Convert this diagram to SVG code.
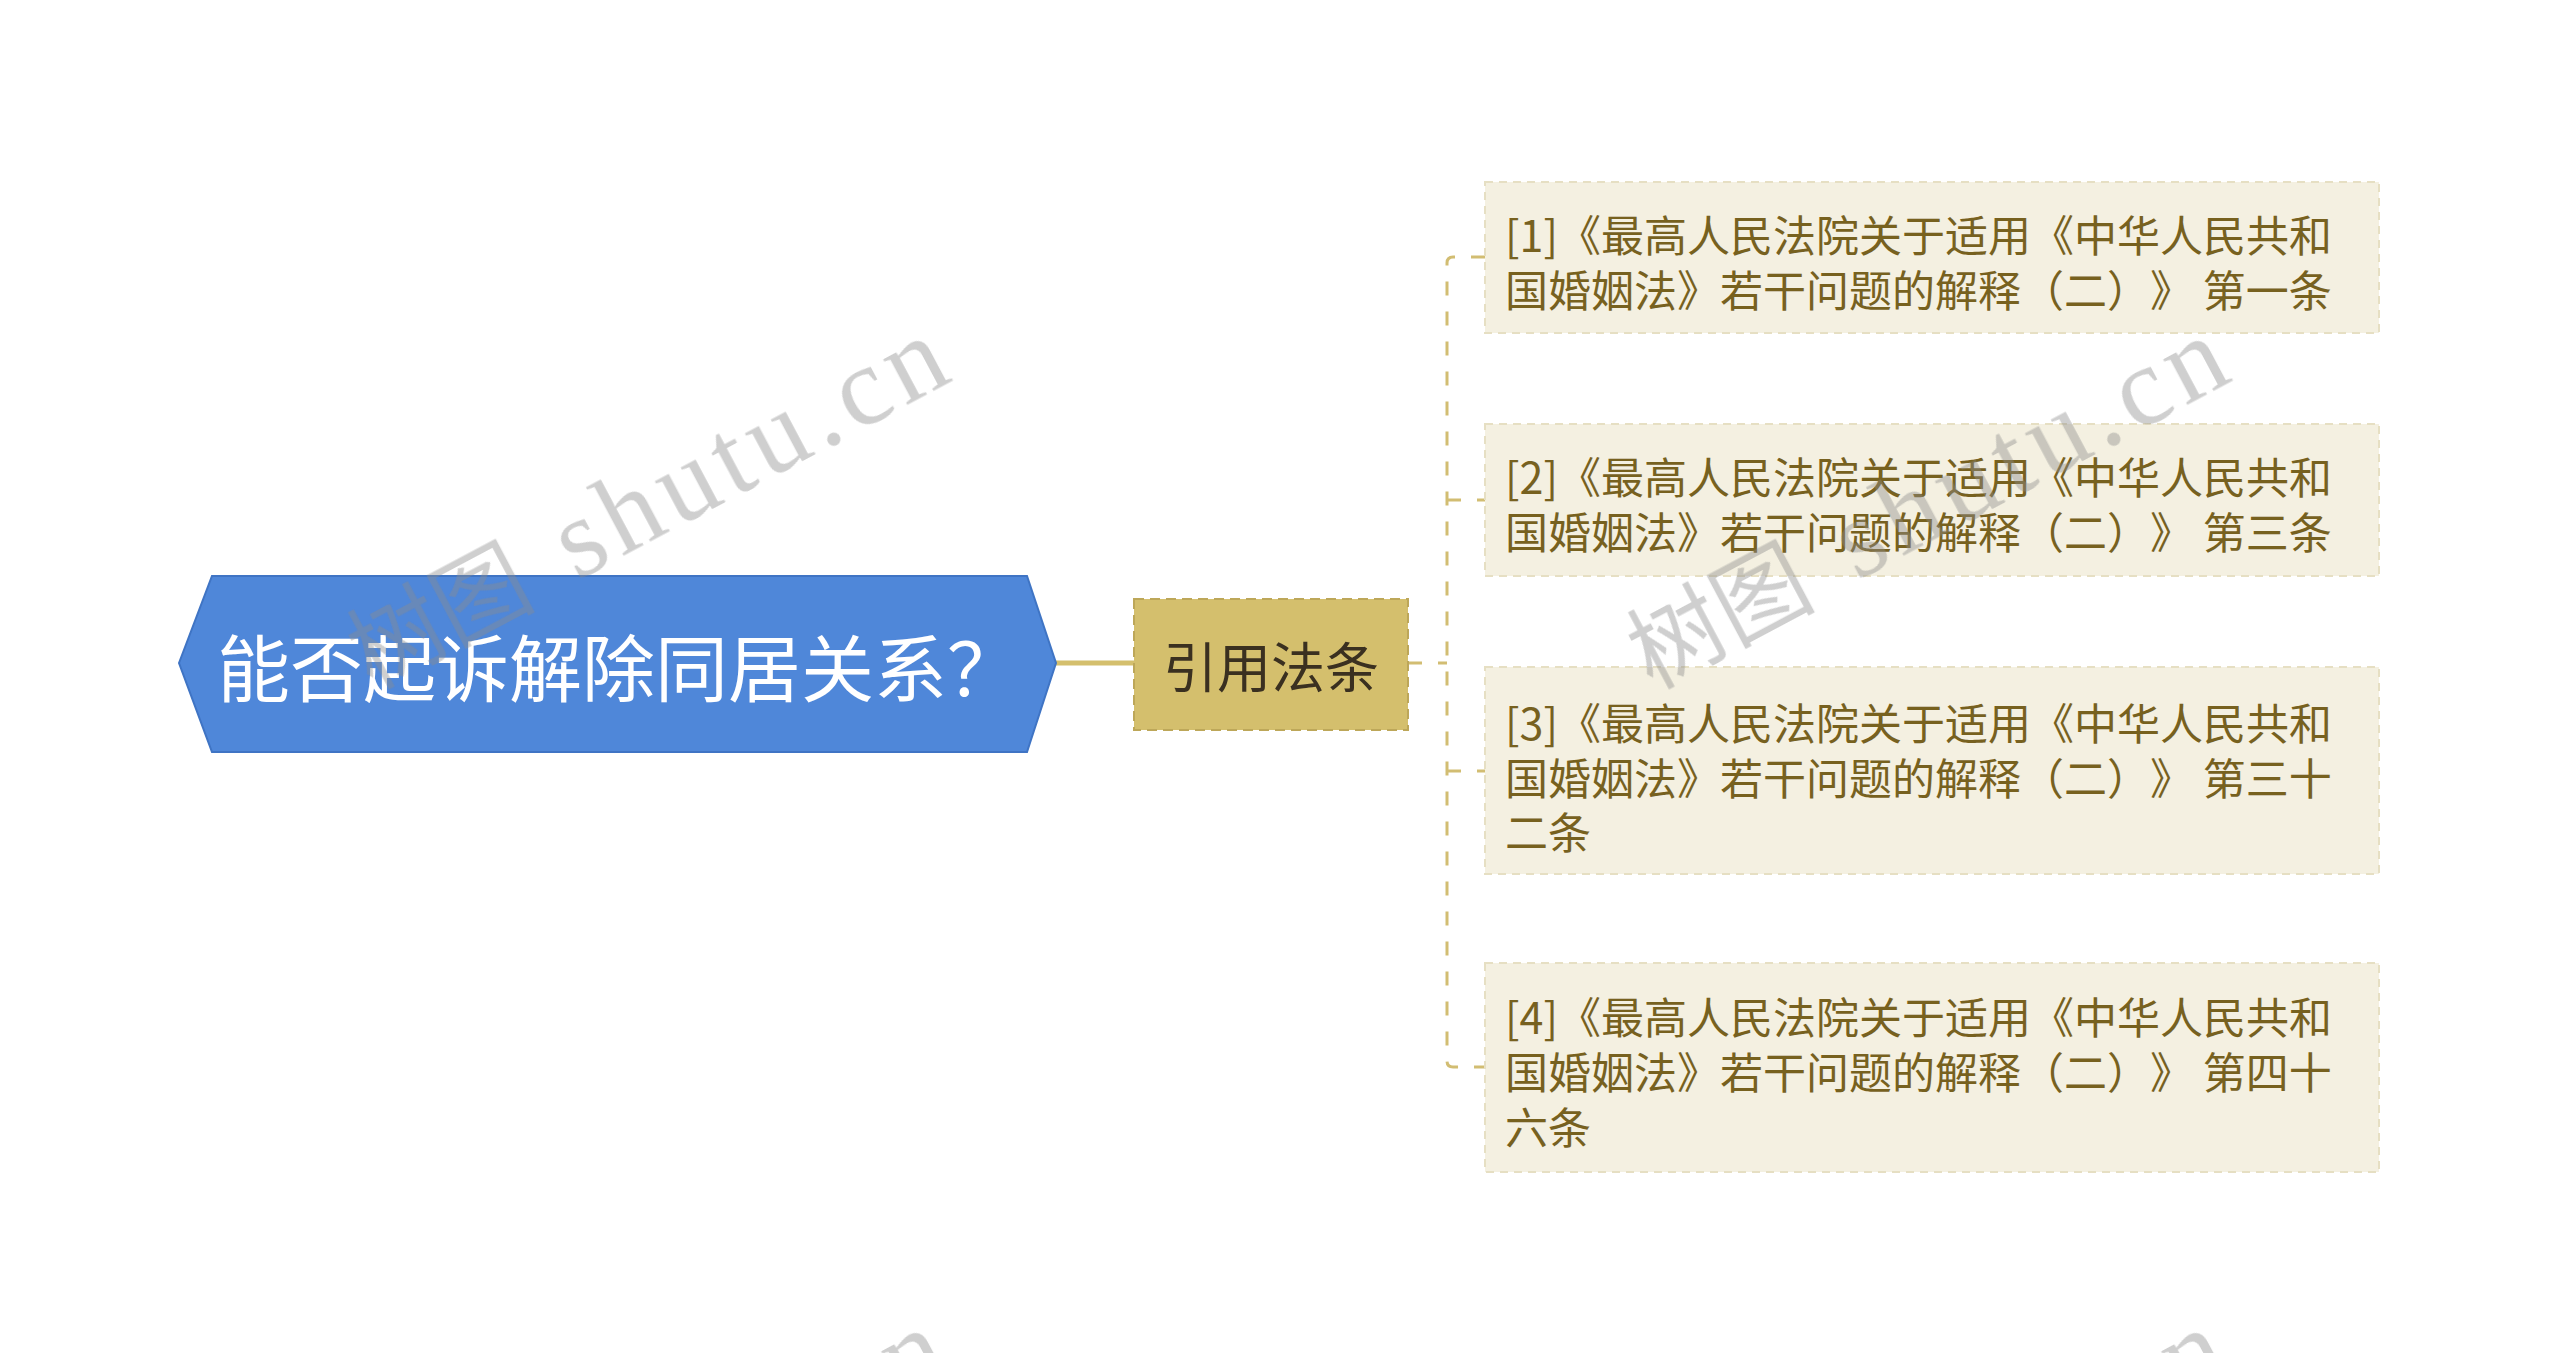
<svg xmlns="http://www.w3.org/2000/svg" width="2560" height="1353" viewBox="0 0 2560 1353">
<style>
.cjk{font-family:"Noto Sans CJK SC","Noto Sans",sans-serif;text-spacing-trim:space-all;font-feature-settings:"chws" 0,"halt" 0,"palt" 0;}
.root-text{font-size:73px;fill:#ffffff;}
.mid-text{font-size:54px;fill:#3a3020;}
.leaf-box{fill:#f4f0e1;stroke:#e6dfc3;stroke-width:2;stroke-dasharray:8 6;}
.leaf-text{font-size:43px;fill:#77611f;}
.conn{fill:none;stroke:#d2bd72;stroke-width:3;stroke-dasharray:14 16;}
.wm{fill:#8c8c8c;opacity:0.42;}
.wm-cjk{font-family:"Noto Sans CJK SC",sans-serif;font-size:94px;}
.wm-lat{font-family:"Liberation Serif",serif;font-size:112px;}
</style>
<rect x="0" y="0" width="2560" height="1353" fill="#ffffff"/>
<g id="connectors">
<line x1="1056" y1="663" x2="1134" y2="663" stroke="#d4bf6d" stroke-width="5"/>
<path class="conn" d="M1408,663 H1447"/>
<path class="conn" d="M1485,257 H1453 Q1447,257 1447,263 V1061 Q1447,1067 1453,1067 H1485"/>
<path class="conn" d="M1447,500 H1485"/>
<path class="conn" d="M1447,771 H1485"/>
</g>
<g id="root">
<polygon points="179,663 212,576 1027,576 1056,663 1027,752 212,752" fill="#4f87d9" stroke="#3f74c4" stroke-width="2"/>
<text class="cjk root-text" x="217" y="696">能否起诉解除同居关系？</text>
</g>
<g id="mid">
<rect x="1134" y="599" width="274" height="131" fill="#d4bf6d" stroke="#bda759" stroke-width="2" stroke-dasharray="10 6"/>
<text class="cjk mid-text" x="1271" y="688" text-anchor="middle">引用法条</text>
</g>
<g id="leaf1">
<rect class="leaf-box" x="1485" y="182" width="894" height="151"/>
<text class="cjk leaf-text" x="1505"><tspan x="1505" y="252">[1]《最高人民法院关于适用《中华人民共和</tspan><tspan x="1505" y="307">国婚姻法》若干问题的解释（二）》 第一条</tspan></text>
</g>
<g id="leaf2">
<rect class="leaf-box" x="1485" y="424" width="894" height="152"/>
<text class="cjk leaf-text" x="1505"><tspan x="1505" y="494">[2]《最高人民法院关于适用《中华人民共和</tspan><tspan x="1505" y="549">国婚姻法》若干问题的解释（二）》 第三条</tspan></text>
</g>
<g id="leaf3">
<rect class="leaf-box" x="1485" y="667" width="894" height="207"/>
<text class="cjk leaf-text" x="1505"><tspan x="1505" y="740">[3]《最高人民法院关于适用《中华人民共和</tspan><tspan x="1505" y="795">国婚姻法》若干问题的解释（二）》 第三十</tspan><tspan x="1505" y="849">二条</tspan></text>
</g>
<g id="leaf4">
<rect class="leaf-box" x="1485" y="963" width="894" height="209"/>
<text class="cjk leaf-text" x="1505"><tspan x="1505" y="1034">[4]《最高人民法院关于适用《中华人民共和</tspan><tspan x="1505" y="1089">国婚姻法》若干问题的解释（二）》 第四十</tspan><tspan x="1505" y="1144">六条</tspan></text>
</g>
<g id="watermarks" class="wm">
<g transform="translate(372,690) rotate(-28)">
<text class="wm-cjk" x="0" y="0">树图</text>
<text class="wm-lat" x="232" y="0" textLength="428" lengthAdjust="spacing">shutu.cn</text>
</g>
<g transform="translate(1652,690) rotate(-28)">
<text class="wm-cjk" x="0" y="0">树图</text>
<text class="wm-lat" x="232" y="0" textLength="428" lengthAdjust="spacing">shutu.cn</text>
</g>
<g transform="translate(370,1682) rotate(-28)">
<text class="wm-cjk" x="0" y="0">树图</text>
<text class="wm-lat" x="232" y="0" textLength="428" lengthAdjust="spacing">shutu.cn</text>
</g>
<g transform="translate(1650,1682) rotate(-28)">
<text class="wm-cjk" x="0" y="0">树图</text>
<text class="wm-lat" x="232" y="0" textLength="428" lengthAdjust="spacing">shutu.cn</text>
</g>
</g>
</svg>
